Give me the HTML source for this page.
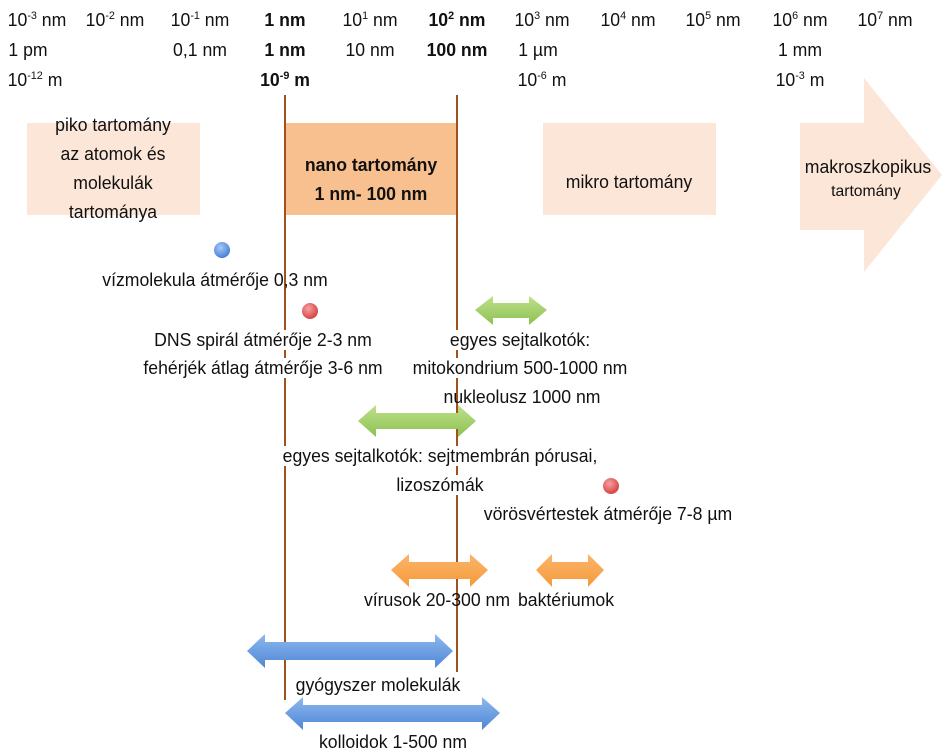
<!DOCTYPE html>
<html><head><meta charset="utf-8"><style>
body{margin:0;width:945px;height:756px;background:#fff;position:relative;overflow:hidden;font-family:"Liberation Sans",sans-serif;color:#111}
.t{position:absolute;transform:translate(-50%,-50%) scaleX(.98);white-space:nowrap;font-size:18px;line-height:20px;text-align:center}
.w{background:#fff;padding:0 2px}
.b{font-weight:bold}
sup{font-size:11px;vertical-align:7px;line-height:0}
</style></head><body>
<svg width="945" height="756" style="position:absolute;left:0;top:0">
<defs>
<linearGradient id="g" x1="0" y1="0" x2="0" y2="1"><stop offset="0" stop-color="#bfe08a"/><stop offset="1" stop-color="#8cc152"/></linearGradient>
<linearGradient id="o" x1="0" y1="0" x2="0" y2="1"><stop offset="0" stop-color="#fbb56a"/><stop offset="1" stop-color="#f59a3c"/></linearGradient>
<linearGradient id="bl" x1="0" y1="0" x2="0" y2="1"><stop offset="0" stop-color="#8db8ee"/><stop offset="1" stop-color="#4f87d6"/></linearGradient>
<radialGradient id="rd" cx=".4" cy=".35" r=".7"><stop offset="0" stop-color="#f7a0a0"/><stop offset="1" stop-color="#d43c3c"/></radialGradient>
<radialGradient id="bd" cx=".4" cy=".35" r=".7"><stop offset="0" stop-color="#a9c8f5"/><stop offset="1" stop-color="#3f7bd6"/></radialGradient>
</defs>
<rect x="27" y="123" width="173" height="92" fill="#fce6d8"/>
<rect x="285" y="123" width="172" height="92" fill="#f8c08f"/>
<rect x="543" y="123" width="173" height="92" fill="#fce6d8"/>
<polygon points="800,123 864,123 864,78 942,175 864,272 864,230 800,230" fill="#fce6d8"/>
<line x1="285" y1="95" x2="285" y2="700" stroke="#a0521e" stroke-width="2"/>
<line x1="457" y1="95" x2="457" y2="672" stroke="#a0521e" stroke-width="2"/>
<circle cx="222" cy="250" r="8" fill="url(#bd)"/>
<circle cx="310" cy="311" r="8" fill="url(#rd)"/>
<circle cx="611" cy="486" r="8" fill="url(#rd)"/>
<polygon points="475,310 493,296 493,303 529,303 529,296 547,310 529,325 529,318 493,318 493,325" fill="url(#g)"/>
<polygon points="358,421 376,405 376,413 458,413 458,405 476,421 458,437 458,429 376,429 376,437" fill="url(#g)"/>
<polygon points="391,570 409,554 409,562 470,562 470,554 488,570 470,587 470,579 409,579 409,587" fill="url(#o)"/>
<polygon points="536,570 552,554 552,562 588,562 588,554 604,570 588,587 588,579 552,579 552,587" fill="url(#o)"/>
<polygon points="247,651 265,634 265,642 435,642 435,634 453,651 435,668 435,660 265,660 265,668" fill="url(#bl)"/>
<polygon points="285,713 303,697 303,705 482,705 482,697 500,713 482,730 482,722 303,722 303,730" fill="url(#bl)"/>
</svg>
<div class="t" style="left:37px;top:20px">10<sup>-3</sup> nm</div>
<div class="t" style="left:115px;top:20px">10<sup>-2</sup> nm</div>
<div class="t" style="left:200px;top:20px">10<sup>-1</sup> nm</div>
<div class="t b" style="left:285px;top:20px">1 nm</div>
<div class="t" style="left:370px;top:20px">10<sup>1</sup> nm</div>
<div class="t b" style="left:457px;top:20px">10<sup>2</sup> nm</div>
<div class="t" style="left:542px;top:20px">10<sup>3</sup> nm</div>
<div class="t" style="left:628px;top:20px">10<sup>4</sup> nm</div>
<div class="t" style="left:713px;top:20px">10<sup>5</sup> nm</div>
<div class="t" style="left:800px;top:20px">10<sup>6</sup> nm</div>
<div class="t" style="left:885px;top:20px">10<sup>7</sup> nm</div>
<div class="t" style="left:28px;top:50px">1 pm</div>
<div class="t" style="left:200px;top:50px">0,1 nm</div>
<div class="t b" style="left:285px;top:50px">1 nm</div>
<div class="t" style="left:370px;top:50px">10 nm</div>
<div class="t b" style="left:457px;top:50px">100 nm</div>
<div class="t" style="left:538px;top:50px">1 µm</div>
<div class="t" style="left:800px;top:50px">1 mm</div>
<div class="t" style="left:35px;top:80px">10<sup>-12</sup> m</div>
<div class="t b" style="left:285px;top:80px">10<sup>-9</sup> m</div>
<div class="t" style="left:542px;top:80px">10<sup>-6</sup> m</div>
<div class="t" style="left:800px;top:80px">10<sup>-3</sup> m</div>
<div class="t" style="left:113px;top:169px;line-height:29px">piko tartomány<br>az atomok és<br>molekulák<br>tartománya</div>
<div class="t b" style="left:371px;top:180px;line-height:29px">nano tartomány<br>1 nm- 100 nm</div>
<div class="t" style="left:629px;top:182px">mikro tartomány</div>
<div class="t" style="left:868px;top:167px">makroszkopikus</div>
<div class="t" style="left:866px;top:192px;font-size:16px">tartomány</div>
<div class="t" style="left:215px;top:280px">vízmolekula átmérője 0,3 nm</div>
<div class="t w" style="left:263px;top:340px">DNS spirál átmérője 2-3 nm</div>
<div class="t w" style="left:263px;top:368px">fehérjék átlag átmérője 3-6 nm</div>
<div class="t w" style="left:520px;top:340px">egyes sejtalkotók:</div>
<div class="t w" style="left:520px;top:368px">mitokondrium 500-1000 nm</div>
<div class="t" style="left:522px;top:397px">nukleolusz 1000 nm</div>
<div class="t w" style="left:440px;top:456px">egyes sejtalkotók: sejtmembrán pórusai,</div>
<div class="t w" style="left:440px;top:485px">lizoszómák</div>
<div class="t" style="left:608px;top:514px">vörösvértestek átmérője 7-8 µm</div>
<div class="t" style="left:437px;top:600px">vírusok 20-300 nm</div>
<div class="t" style="left:566px;top:600px">baktériumok</div>
<div class="t" style="left:378px;top:685px">gyógyszer molekulák</div>
<div class="t" style="left:393px;top:742px">kolloidok 1-500 nm</div>
</body></html>
